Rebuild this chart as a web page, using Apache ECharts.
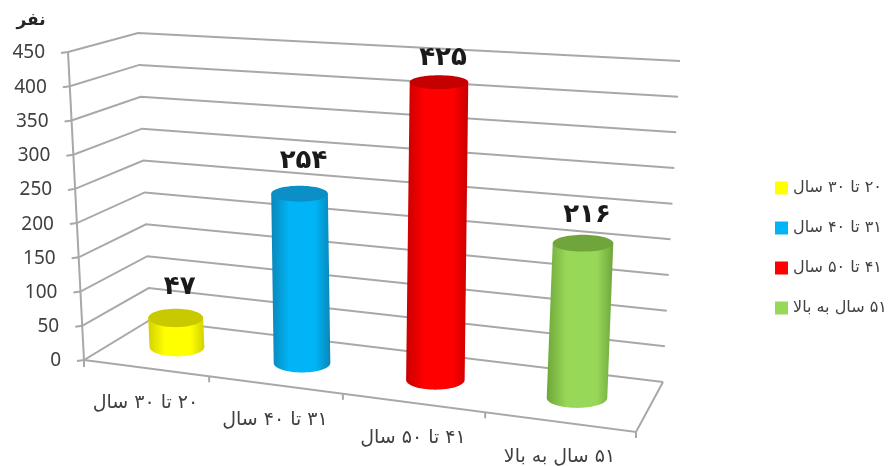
<!DOCTYPE html>
<html>
<head>
<meta charset="utf-8">
<style>html,body{margin:0;padding:0;background:#fff;}</style>
<script src="https://cdn.jsdelivr.net/npm/echarts@6/dist/echarts.min.js"></script>
</head>
<body>
<div id="main" dir="rtl" style="width:895px;height:466px;"></div>
<script>
const categories = ['۲۰ تا ۳۰ سال', '۳۱ تا ۴۰ سال', '۴۱ تا ۵۰ سال', '۵۱ سال به بالا'];
const values = [47, 254, 425, 216];
const valueLabels = ['۴۷', '۲۵۴', '۴۲۵', '۲۱۶'];
const yTicks = [0, 50, 100, 150, 200, 250, 300, 350, 400, 450];
const unitName = 'نفر';

const palette = [
    {top: '#c9c900', edge: '#d2d200', mid: '#ffff00'},
    {top: '#0c8fc6', edge: '#0a86b8', mid: '#00b4f5'},
    {top: '#c40000', edge: '#c80000', mid: '#ff0000'},
    {top: '#70a53c', edge: '#6ea63a', mid: '#97d858'}
];
// distance of each value label above its column, px
const labelLift = [31, 33, 24, 28];

// corners of the 3d box on screen, the reference is a perspective view
const box = {
    frontLeft: [[84, 360], [68, 52]],
    backLeft: [[150, 320], [138, 33]],
    backRight: [[663, 382], [680, 61]],
    frontRight: [636, 432]
};
// plane through the middle of the columns
const midBase = [[117.5, 339.4], [650.9, 407.4]];

const FONT_LATIN = '"Noto Sans"';
const FONT_FA = '"DejaVu Sans"';
const GRID_COLOR = '#a8a8a8';

function mix(a, b, t) {
    return [a[0] + (b[0] - a[0]) * t, a[1] + (b[1] - a[1]) * t];
}
// category spacing gets wider to the right
function warp(u) {
    return u + 0.124 * u * (u - 1);
}
function leftFront(v) { return mix(box.frontLeft[0], box.frontLeft[1], v); }
function leftBack(v) { return mix(box.backLeft[0], box.backLeft[1], v); }
function rightBack(v) { return mix(box.backRight[0], box.backRight[1], v); }
function frontEdge(u) { return mix(box.frontLeft[0], box.frontRight, warp(u)); }

function toUnit(api, params, cat, val) {
    const p = api.coord([cat, val]);
    const g = params.coordSys;
    return {u: (p[0] - g.x) / g.width, v: (g.y + g.height - p[1]) / g.height};
}

function line(points) {
    return {
        type: 'polyline',
        shape: {points: points},
        style: {fill: 'none', stroke: GRID_COLOR, lineWidth: 2}
    };
}

function renderFrame(params, api) {
    const pos = toUnit(api, params, 0, api.value(0));
    const v = pos.v;
    const f = leftFront(v), b = leftBack(v), r = rightBack(v);
    const children = [
        line([[f[0] - 7, f[1] + 1], f, b, r]),
        {
            type: 'text',
            style: {
                x: f[0] - 23, y: f[1] + 1,
                text: String(api.value(0)),
                font: '19px ' + FONT_LATIN,
                fill: '#404040',
                align: 'right',
                verticalAlign: 'middle'
            }
        }
    ];
    if (params.dataIndex === 0) {
        // axis line, floor edges and the first tick
        children.push(line([leftFront(0), leftFront(1)]));
        children.push(line([box.frontLeft[0], box.frontRight, box.backRight[0]]));
        children.push(line([box.frontLeft[0], [84, 367]]));
        children.push({
            type: 'text',
            style: {
                x: 31, y: 21, text: unitName,
                font: 'bold 17px ' + FONT_FA,
                fill: '#262626',
                align: 'center',
                verticalAlign: 'middle'
            }
        });
    }
    return {type: 'group', children: children};
}

function ellipseRy(y) {
    return 6.5 + 0.0095 * (y - 40);
}

function ellipsePoints(c, rx, ry, from, to) {
    const pts = [];
    for (let i = 0; i <= 36; i++) {
        const a = from + (to - from) * i / 36;
        pts.push([c[0] + rx * Math.cos(a), c[1] + ry * Math.sin(a)]);
    }
    return pts;
}

function renderColumn(params, api) {
    const cat = api.value(0);
    const pos = toUnit(api, params, cat, api.value(1));
    const c = palette[cat];
    const m = warp(pos.u);
    const band = api.size([1, 0])[0] / params.coordSys.width;

    const base = mix(midBase[0], midBase[1], m);
    // pixels per unit and lean change across the plane
    const scale = (0.587 + 0.28 * m - 0.15 * m * m) * 450;
    const lean = (-0.035 + 0.073 * m) * 450;
    const top = [base[0] + lean * pos.v, base[1] - scale * pos.v];
    const rx = 27 + 3.8 * m;

    const body = ellipsePoints(base, rx, ellipseRy(base[1]), Math.PI, 0)
        .concat([[top[0] + rx, top[1]], [top[0] - rx, top[1]]]);

    const tick = frontEdge(pos.u + band / 2);
    const front = frontEdge(pos.u);
    return {
        type: 'group',
        children: [
            line([tick, [tick[0], tick[1] + 6]]),
            {
                type: 'polygon',
                shape: {points: body},
                style: {
                    fill: new echarts.graphic.LinearGradient(0, 0, 1, 0, [
                        {offset: 0, color: c.edge},
                        {offset: 0.3, color: c.mid},
                        {offset: 0.75, color: c.mid},
                        {offset: 1, color: c.edge}
                    ])
                }
            },
            {
                type: 'ellipse',
                shape: {cx: top[0], cy: top[1], rx: rx, ry: ellipseRy(top[1])},
                style: {fill: c.top}
            },
            {
                type: 'text',
                style: {
                    x: top[0] + 4, y: top[1] - labelLift[cat],
                    text: valueLabels[cat],
                    font: 'bold 26px ' + FONT_FA,
                    fill: '#1a1a1a',
                    align: 'center',
                    verticalAlign: 'middle'
                }
            },
            {
                type: 'text',
                style: {
                    x: front[0], y: front[1] + 35,
                    text: categories[cat],
                    font: '19px ' + FONT_FA,
                    fill: '#404040',
                    align: 'center',
                    verticalAlign: 'middle'
                }
            }
        ]
    };
}

const columnSeries = categories.map(function (name, i) {
    return {
        name: name,
        type: 'custom',
        renderItem: renderColumn,
        itemStyle: {color: palette[i].mid},
        encode: {x: 0, y: 1},
        data: [[i, values[i]]]
    };
});

const chart = echarts.init(document.getElementById('main'));
chart.setOption({
    animation: false,
    grid: {left: 84, right: 230, top: 52, bottom: 106},
    xAxis: {type: 'category', data: categories, show: false},
    yAxis: {type: 'value', min: 0, max: 450, interval: 50, show: false},
    legend: {
        orient: 'vertical',
        left: 775,
        top: 180,
        padding: 0,
        itemWidth: 13,
        itemHeight: 13,
        itemGap: 24,
        icon: 'rect',
        data: categories,
        textStyle: {fontFamily: FONT_FA, fontSize: 16, color: '#404040'}
    },
    series: [{
        name: 'frame',
        type: 'custom',
        renderItem: renderFrame,
        encode: {y: 0},
        data: yTicks.map(function (t) { return [t]; }),
        silent: true
    }].concat(columnSeries)
});
</script>
</body>
</html>
